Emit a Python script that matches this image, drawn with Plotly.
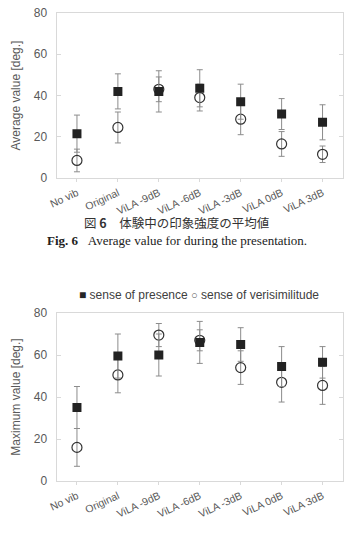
import plotly.graph_objects as go

categories = ["No vib", "Original", "ViLA -9dB", "ViLA -6dB", "ViLA -3dB", "ViLA 0dB", "ViLA 3dB"]

avg_presence = [21.5, 42, 42, 43.5, 37, 31, 27]
avg_presence_err = [9, 8.5, 10, 9, 8.5, 7.5, 8.5]
avg_verisim = [8.5, 24.5, 43, 39, 28.5, 16.5, 11.5]
avg_verisim_err = [5.5, 7.5, 6, 6.5, 7.5, 6, 4]

max_presence = [35, 59.5, 60, 66, 65, 54.5, 56.5]
max_presence_err = [10, 10.5, 10, 10, 8, 9.5, 7.5]
max_verisim = [16, 50.5, 69.5, 67, 54, 47, 45.5]
max_verisim_err = [9, 8.5, 5.5, 5, 8, 9.4, 9]

y_ticks = [0, 20, 40, 60, 80]
series_names = ["sense of presence", "sense of verisimilitude"]

ERR_COLOR = "#8c8c8c"
MARK = "#222222"
AX = "#d9d9d9"
TXT = "#595959"
FONT = "Liberation Sans, Arial, sans-serif"

fig = go.Figure()

def add_pair(xa, ya, pres, pres_err, ver, ver_err):
    fig.add_trace(go.Scatter(
        x=categories, y=ver, mode="markers", name=series_names[1],
        xaxis=xa, yaxis=ya, showlegend=False,
        marker=dict(symbol="circle-open", size=10, color="#333333", line=dict(width=1.2, color="#333333")),
        error_y=dict(type="data", array=ver_err, color=ERR_COLOR, thickness=1, width=3),
    ))
    fig.add_trace(go.Scatter(
        x=categories, y=pres, mode="markers", name=series_names[0],
        xaxis=xa, yaxis=ya, showlegend=False,
        marker=dict(symbol="square", size=9, color=MARK, line=dict(width=0)),
        error_y=dict(type="data", array=pres_err, color=ERR_COLOR, thickness=1, width=3),
    ))

add_pair("x", "y", avg_presence, avg_presence_err, avg_verisim, avg_verisim_err)
add_pair("x2", "y2", max_presence, max_presence_err, max_verisim, max_verisim_err)

W, H = 350, 535
xdom = [56.5 / W, 343 / W]

def xaxis_cfg(anchor):
    return dict(
        domain=xdom, anchor=anchor, type="category", range=[-0.5, 6.5],
        showline=True, linecolor=AX, linewidth=1, mirror=True,
        ticks="outside", ticklen=3, tickcolor=AX, showgrid=False, zeroline=False,
        tickangle=-25, tickfont=dict(family=FONT, size=10.5, color=TXT),
        ticklabelstandoff=1, automargin=False,
    )

def yaxis_cfg(anchor, dom, title):
    return dict(
        domain=dom, anchor=anchor, range=[0, 80], tickvals=y_ticks,
        showline=True, linecolor=AX, linewidth=1, mirror="ticks",
        ticks="inside", ticklen=4, tickcolor=AX, showgrid=False, zeroline=False,
        tickfont=dict(family=FONT, size=12, color=TXT), ticklabelstandoff=6,
        title=dict(text=title, font=dict(family=FONT, size=12, color=TXT), standoff=10),
        automargin=False,
    )

fig.update_layout(
    width=W, height=H, autosize=False,
    margin=dict(l=0, r=0, t=0, b=0),
    paper_bgcolor="white", plot_bgcolor="white",
    xaxis=xaxis_cfg("y"),
    yaxis=yaxis_cfg("x", [1 - 178 / H, 1 - 13 / H], "Average value [deg.]"),
    xaxis2=xaxis_cfg("y2"),
    yaxis2=yaxis_cfg("x2", [1 - 481 / H, 1 - 313 / H], "Maximum value [deg.]"),
    showlegend=False,
)

# legend row for the lower chart
fig.add_annotation(
    text=("<span style='color:#262626'>■</span> " + series_names[0] +
          " <span style='color:#595959;font-size:11px'>○</span> " + series_names[1]),
    xref="paper", yref="paper", x=199 / W, y=1 - 295 / H, xanchor="center", yanchor="middle",
    showarrow=False, font=dict(family=FONT, size=12, color="#404040"),
)

fig.add_annotation(
    text="図 <b>6</b>\u3000体験中の印象強度の平均値",
    xref="paper", yref="paper", x=177 / W, y=1 - 222 / H, xanchor="center", yanchor="middle",
    showarrow=False, font=dict(family="Noto Sans CJK JP", size=12.5, color="#333333"),
)
fig.add_annotation(
    text="<b>Fig. 6</b>\u00a0\u00a0\u00a0Average value for during the presentation.",
    xref="paper", yref="paper", x=177 / W, y=1 - 240 / H, xanchor="center", yanchor="middle",
    showarrow=False, font=dict(family="Liberation Serif, DejaVu Serif, serif", size=13, color="#222222"),
)

fig.write_html("out.html")
